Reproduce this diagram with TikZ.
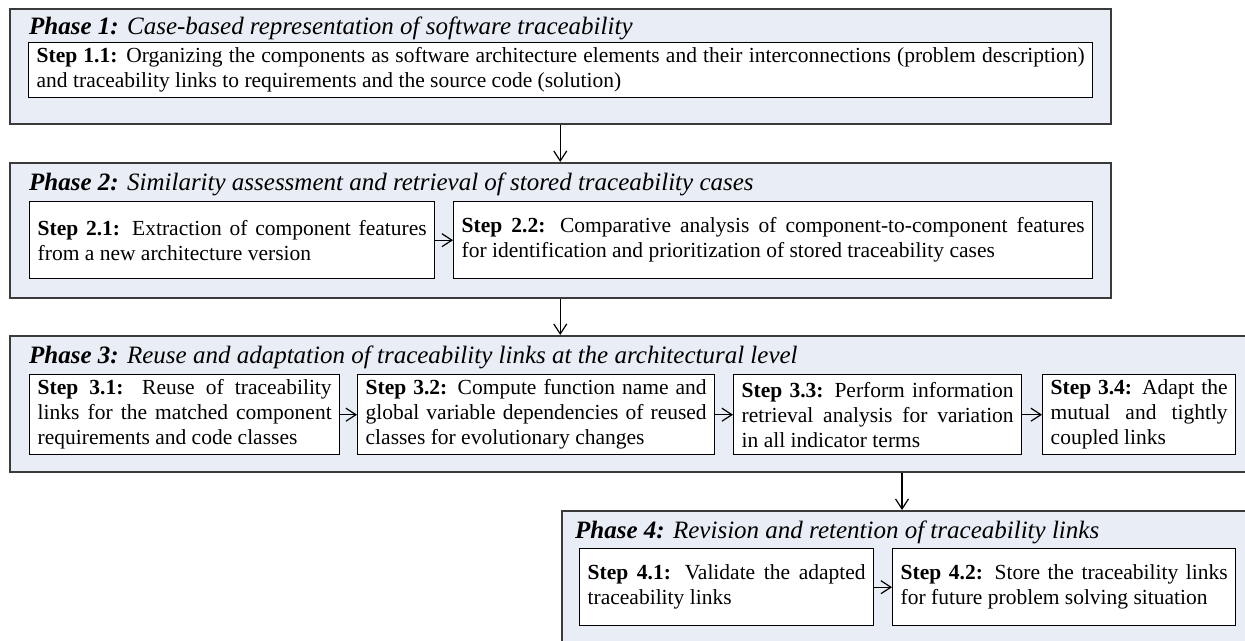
\documentclass[tikz,border=0pt]{standalone}
\usepackage{fontspec}
\setmainfont{Liberation Serif}
\usetikzlibrary{arrows.meta}
\definecolor{phasefill}{HTML}{E9EDF5}
\definecolor{phaseline}{HTML}{3A3A3A}
\hyphenpenalty=10000
\exhyphenpenalty=10000
\tolerance=9999

\begin{document}
\begin{tikzpicture}[x=1pt, y=-1pt,
		phasebox/.style={draw=phaseline, fill=phasefill, line width=1.5pt, anchor=north west, inner sep=0pt},
		phasetitle/.style={anchor=base west, inner sep=0pt, font=\fontsize{25}{30}\selectfont\itshape},
		stepbox/.style={draw=black, fill=white, line width=1.4pt, anchor=north west, inner xsep=8pt, inner ysep=0pt, align=justify, font=\fontsize{21.5}{25}\selectfont},
		flow/.style={line width=1.2pt, -{Straight Barb[length=10pt, width=13pt, line width=1.2pt]}}]

		\clip (0,0) rectangle (1245,640);

		% phase 1
		\node[phasebox, minimum width=1101pt, minimum height=115pt] (phase1) at (9,8) {};
		\node[phasetitle] (title1) at (29,34) {\textbf{Phase 1:} Case-based representation of software traceability};
		\node[stepbox, text width=1048pt, minimum height=55pt] (step11) at (28,42) {\textbf{Step 1.1:} Organizing the components as software architecture elements and their interconnections (problem description)\linebreak and traceability links to requirements and the source code (solution)};

		% phase 2
		\node[phasebox, minimum width=1101pt, minimum height=135pt] (phase2) at (9,162) {};
		\node[phasetitle] (title2) at (29,190) {\textbf{Phase 2:} Similarity assessment and retrieval of stored traceability cases};
		\node[stepbox, text width=389pt, minimum height=77pt] (step21) at (29,201) {\textbf{Step 2.1:} Extraction of component features\linebreak from a new architecture version};
		\node[stepbox, text width=623pt, minimum height=77pt] (step22) at (453,201) {\textbf{Step 2.2:} Comparative analysis of component-to-component features\linebreak for identification and prioritization of stored traceability cases};

		% phase 3
		\node[phasebox, minimum width=1251pt, minimum height=136pt] (phase3) at (9,335) {};
		\node[phasetitle] (title3) at (29,363) {\textbf{Phase 3:} Reuse and adaptation of traceability links at the architectural level};
		\node[stepbox, text width=294pt, minimum height=80pt] (step31) at (29,374) {\textbf{Step 3.1:} Reuse of traceability\linebreak links for the matched component\linebreak requirements and code classes};
		\node[stepbox, text width=341pt, minimum height=80pt] (step32) at (357,374) {\textbf{Step 3.2:} Compute function name and\linebreak global variable dependencies of reused\linebreak classes for evolutionary changes};
		\node[stepbox, text width=272pt, minimum height=80pt] (step33) at (733,374) {\textbf{Step 3.3:} Perform information\linebreak retrieval analysis for variation\linebreak in all indicator terms};
		\node[stepbox, text width=177pt, minimum height=80pt] (step34) at (1042,374) {\textbf{Step 3.4:} Adapt the\linebreak mutual and tightly\linebreak coupled links};

		% phase 4
		\node[phasebox, minimum width=699pt, minimum height=190pt] (phase4) at (561,510) {};
		\node[phasetitle] (title4) at (575,538) {\textbf{Phase 4:} Revision and retention of traceability links};
		\node[stepbox, text width=278pt, minimum height=77pt] (step41) at (579,548) {\textbf{Step 4.1:} Validate the adapted\linebreak traceability links};
		\node[stepbox, text width=327pt, minimum height=77pt] (step42) at (892,548) {\textbf{Step 4.2:} Store the traceability links\linebreak for future problem solving situation};

		% flow between phases
		\coordinate (drop34) at (902,0);
		\draw[flow] (phase1.south) -- (phase2.north);
		\draw[flow] (phase2.south) -- (phase3.north -| phase2.south);
		\draw[flow] (phase3.south -| drop34) -- (phase4.north -| drop34);

		% flow between steps
		\draw[flow] (step21.east) -- (step22.west);
		\draw[flow] (step31.east) -- (step32.west);
		\draw[flow] (step32.east) -- (step33.west);
		\draw[flow] (step33.east) -- (step34.west);
		\draw[flow] (step41.east) -- (step42.west);

	\end{tikzpicture}
\end{document}
